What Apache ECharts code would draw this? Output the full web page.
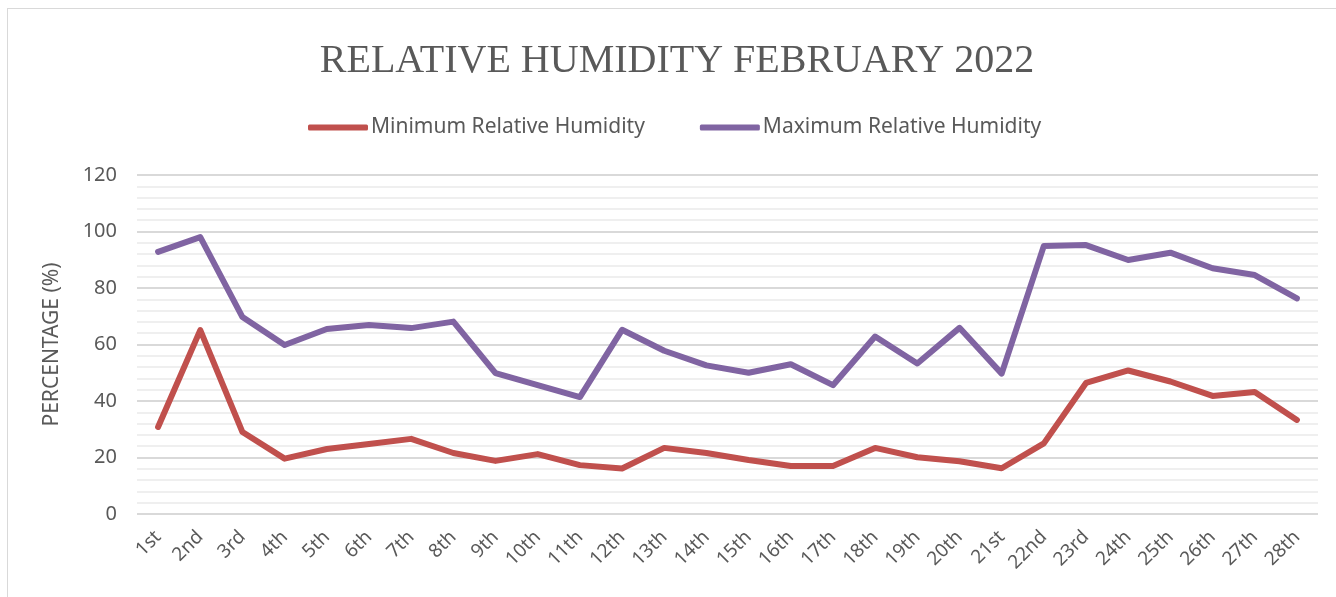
<!DOCTYPE html>
<html>
<head>
<meta charset="utf-8">
<script src="https://cdn.jsdelivr.net/npm/echarts@6/dist/echarts.min.js"></script>
<style>
html,body{margin:0;padding:0;background:#fff;}
#frame{position:absolute;left:7px;top:8px;width:1330px;height:600px;border-left:1px solid #d9d9d9;border-top:1px solid #d9d9d9;box-sizing:border-box;}
#chart{position:absolute;left:0;top:0;width:1336px;height:597px;}
</style>
</head>
<body>
<div id="frame"></div>
<div id="chart"></div>
<script>
const categories = ['1st','2nd','3rd','4th','5th','6th','7th','8th','9th','10th','11th','12th','13th','14th','15th','16th','17th','18th','19th','20th','21st','22nd','23rd','24th','25th','26th','27th','28th'];
const minHumidity = [30.8,65.1,29,19.6,23,24.8,26.6,21.6,18.8,21.2,17.3,16.1,23.4,21.6,19.1,17,17,23.4,20.1,18.7,16.2,25,46.4,50.8,46.9,41.8,43.2,33.3];
const maxHumidity = [92.8,98,69.7,59.8,65.5,66.9,65.8,68.1,49.9,45.6,41.4,65.2,57.8,52.6,50,53,45.6,62.8,53.3,65.9,49.7,94.9,95.2,89.9,92.5,87,84.6,76.3];
const yTicks = {min:0, max:120, interval:20};

const chart = echarts.init(document.getElementById('chart'), null, {renderer:'canvas'});
chart.setOption({
  backgroundColor:'transparent',
  animation:false,
  title:{
    text:'RELATIVE HUMIDITY FEBRUARY 2022',
    left:672, top:36, textAlign:'center',
    textStyle:{fontFamily:'Liberation Serif', fontSize:40, fontWeight:'normal', color:'#595959'}
  },
  legend:{
    top:112, left:303, itemGap:55, itemWidth:60, itemHeight:6,
    icon:'roundRect',
    textStyle:{fontFamily:'Noto Sans', fontSize:21, color:'#595959', padding:[0,0,0,-2]},
    data:['Minimum Relative Humidity','Maximum Relative Humidity']
  },
  grid:{left:137, right:18, top:175, bottom:83, containLabel:false},
  xAxis:{
    type:'category', data:categories, boundaryGap:true,
    axisLine:{show:false}, axisTick:{show:false},
    axisLabel:{rotate:45, fontFamily:'Noto Sans', fontSize:19, color:'#595959', margin:20, interval:0}
  },
  yAxis:{
    type:'value', min:yTicks.min, max:yTicks.max, interval:yTicks.interval,
    name:'PERCENTAGE (%)', nameLocation:'middle', nameGap:74, nameRotate:90,
    nameTextStyle:{fontFamily:'Noto Sans', fontSize:21, color:'#595959'},
    axisLine:{show:false}, axisTick:{show:false},
    axisLabel:{fontFamily:'Noto Sans', fontSize:20, color:'#595959', margin:20},
    splitLine:{lineStyle:{color:'#d9d9d9', width:2}},
    minorTick:{show:false, splitNumber:5},
    minorSplitLine:{show:true, lineStyle:{color:'#efefef', width:2}}
  },
  series:[
    {name:'Minimum Relative Humidity', type:'line', data:minHumidity, symbol:'none',
     lineStyle:{width:6, color:'#C0504D', cap:'round', join:'round'}, itemStyle:{color:'#C0504D'}},
    {name:'Maximum Relative Humidity', type:'line', data:maxHumidity, symbol:'none',
     lineStyle:{width:6, color:'#8064A2', cap:'round', join:'round'}, itemStyle:{color:'#8064A2'}}
  ]
});
</script>
</body>
</html>
